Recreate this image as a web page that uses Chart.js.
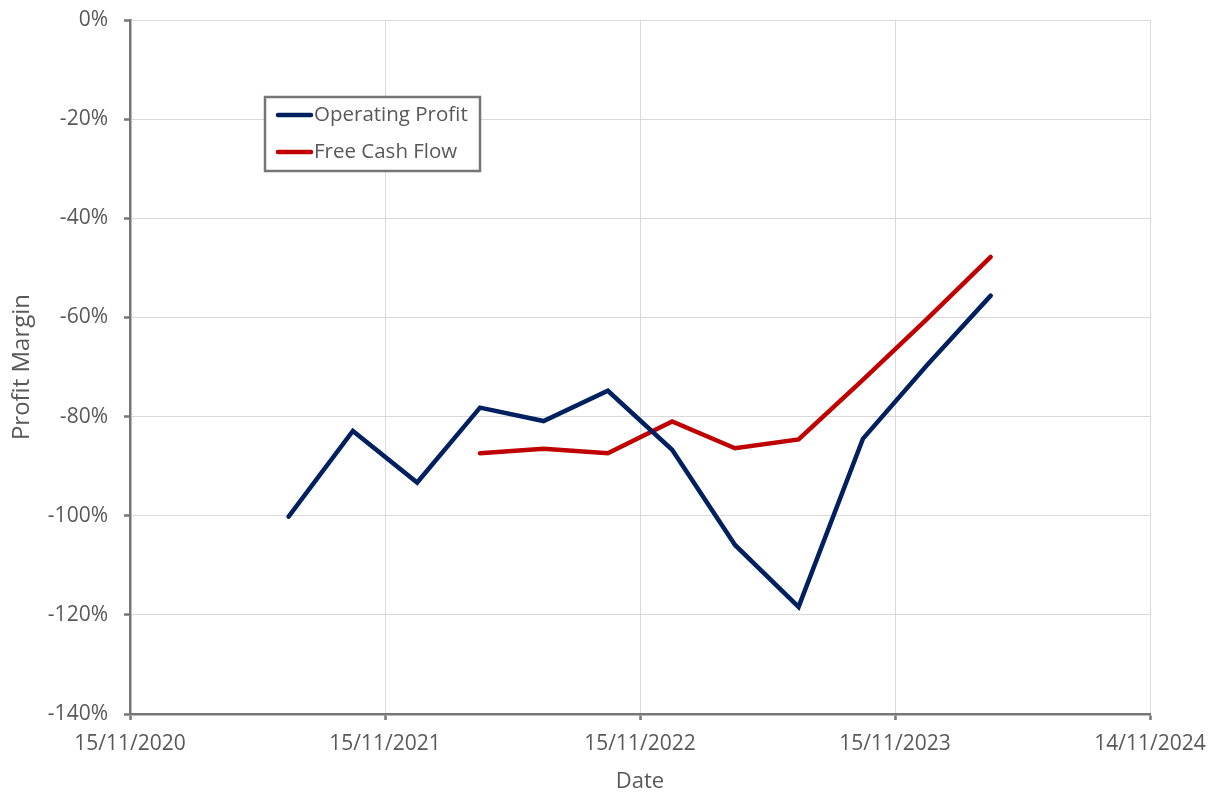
<!DOCTYPE html>
<html>
<head>
<meta charset="utf-8">
<script src="https://cdn.jsdelivr.net/npm/chart.js@4.4.1/dist/chart.umd.min.js"></script>
<style>
  html, body { margin: 0; padding: 0; background: #fff; }
  #wrap { width: 1221px; height: 799px; }
</style>
</head>
<body>
<div id="wrap"><canvas id="myChart" width="1221" height="799"></canvas></div>
<script>
// quarter-end dates (dd/mm/yyyy)
const dates = [
    "30/06/2021", "30/09/2021", "31/12/2021",
    "31/03/2022", "30/06/2022", "30/09/2022", "31/12/2022",
    "31/03/2023", "30/06/2023", "30/09/2023", "31/12/2023",
    "31/03/2024",
];
// profit margin in %
const operatingProfit = [-100.2, -82.9, -93.3, -78.2, -80.9, -74.8, -86.7, -105.9, -118.4, -84.5, -69.6, -55.6];
const freeCashFlow = [null, null, null, -87.4, -86.5, -87.4, -81.0, -86.4, -84.6, -72.6, -60.3, -47.8];
const yTicks = [0, -20, -40, -60, -80, -100, -120, -140];

// x axis runs in days from 15/11/2020
const START = Date.UTC(2020, 10, 15);
const DAY = 86400000;
const toDays = s => {
    const [d, m, y] = s.split("/").map(Number);
    return (Date.UTC(y, m - 1, d) - START) / DAY;
};
const fmtDay = v => {
    const d = new Date(START + v * DAY);
    const p = n => String(n).padStart(2, "0");
    return p(d.getUTCDate()) + "/" + p(d.getUTCMonth() + 1) + "/" + d.getUTCFullYear();
};
const points = vals => dates.map((s, i) => ({ x: toDays(s), y: vals[i] })).filter(p => p.y !== null);

const FONT = "'Open Sans', sans-serif";
const GREY = "#595959";

// legend box inside the plot, like the spreadsheet one
const boxLegend = {
    id: "boxLegend",
    afterDraw(chart) {
        const c = chart.ctx;
        const x = 265, y = 97, w = 215, h = 74;
        c.save();
        c.fillStyle = "#fff";
        c.fillRect(x, y, w, h);
        c.strokeStyle = "#767676";
        c.lineWidth = 2.5;
        c.strokeRect(x, y, w, h);
        c.font = "20.5px " + FONT;
        c.textBaseline = "middle";
        chart.data.datasets.forEach((ds, i) => {
            const ly = y + 18 + i * 37;
            c.strokeStyle = ds.borderColor;
            c.lineWidth = 4.5;
            c.lineCap = "round";
            c.beginPath();
            c.moveTo(x + 13, ly);
            c.lineTo(x + 46, ly);
            c.stroke();
            c.fillStyle = GREY;
            c.fillText(ds.label, x + 49, ly);
        });
        c.restore();
    },
};

const ctx = document.getElementById("myChart").getContext("2d");
const myChart = new Chart(ctx, {
    type: "line",
    data: {
        datasets: [
            {
                label: "Operating Profit",
                data: points(operatingProfit),
                borderColor: "#002060",
                borderWidth: 4.5,
                pointRadius: 0,
                borderCapStyle: "round",
                borderJoinStyle: "miter",
                tension: 0,
            },
            {
                label: "Free Cash Flow",
                data: points(freeCashFlow),
                borderColor: "#C00000",
                borderWidth: 4.5,
                pointRadius: 0,
                borderCapStyle: "round",
                borderJoinStyle: "miter",
                tension: 0,
            },
        ],
    },
    options: {
        responsive: false,
        animation: false,
        layout: { padding: { top: 20, right: 71, left: 0, bottom: 0 } },
        plugins: {
            legend: { display: false },
            tooltip: { enabled: false },
        },
        scales: {
            x: {
                type: "linear",
                min: 0,
                max: 1460,
                afterFit: s => { s.height = 85; s.paddingLeft = 0; s.paddingRight = 0; },
                afterBuildTicks: s => { s.ticks = [0, 365, 730, 1095, 1460].map(v => ({ value: v })); },
                ticks: {
                    callback: v => fmtDay(v),
                    color: GREY,
                    font: { family: FONT, size: 21 },
                    padding: 11,
                    maxRotation: 0,
                },
                grid: { color: "#d9d9d9", lineWidth: 1, tickColor: "#767676", tickWidth: 2.5, tickLength: 6 },
                border: { color: "#767676", width: 2.5 },
                title: {
                    display: true,
                    text: "Date",
                    color: GREY,
                    font: { family: FONT, size: 22 },
                    padding: { top: 0, bottom: 4 },
                },
            },
            y: {
                min: -140,
                max: 0,
                afterFit: s => { s.width = 130; s.paddingTop = 0; s.paddingBottom = 0; },
                afterBuildTicks: s => { s.ticks = yTicks.map(v => ({ value: v })); },
                ticks: {
                    callback: v => v + "%",
                    color: GREY,
                    font: { family: FONT, size: 21 },
                    padding: 16,
                },
                grid: { color: "#d9d9d9", lineWidth: 1, tickColor: "#767676", tickWidth: 2.5, tickLength: 6 },
                border: { color: "#767676", width: 2.5 },
                title: {
                    display: true,
                    text: "Profit Margin",
                    color: GREY,
                    font: { family: FONT, size: 24 },
                    padding: { top: 8, bottom: 0 },
                },
            },
        },
    },
    plugins: [boxLegend],
});
</script>
</body>
</html>
